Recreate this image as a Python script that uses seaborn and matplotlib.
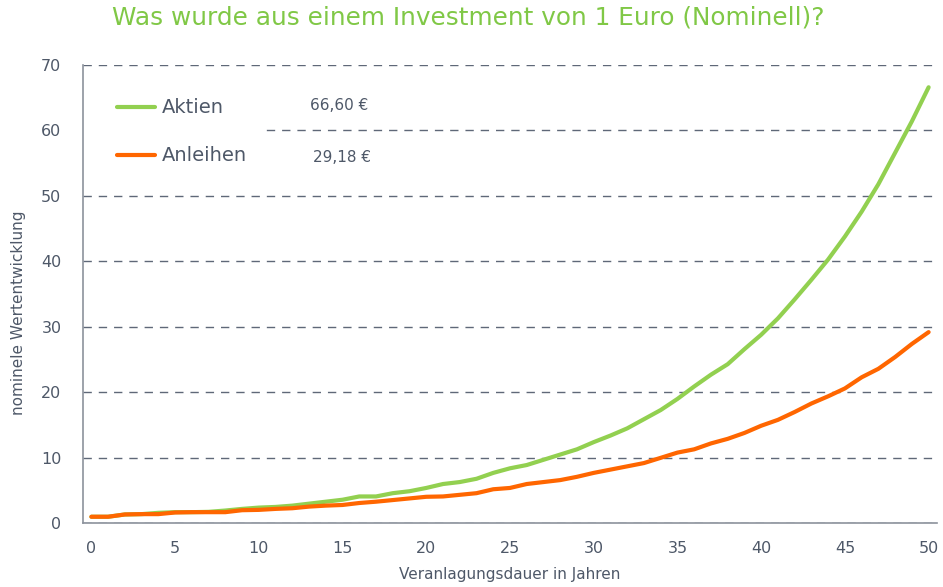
import numpy as np
import pandas as pd
import matplotlib
matplotlib.use("Agg")
import matplotlib.pyplot as plt
import seaborn as sns
from matplotlib.patches import Rectangle
from matplotlib.ticker import FixedLocator

# ---------------- data ----------------
years = list(range(0, 51))
aktien = [1.0, 1.0, 1.35, 1.4, 1.6, 1.7, 1.7, 1.75, 1.95, 2.2,
          2.4, 2.5, 2.7, 3.0, 3.3, 3.6, 4.1, 4.1, 4.6, 4.9,
          5.4, 6.0, 6.3, 6.8, 7.7, 8.4, 8.9, 9.7, 10.5, 11.3,
          12.4, 13.4, 14.5, 15.9, 17.3, 19.0, 20.9, 22.7, 24.3, 26.6,
          28.8, 31.3, 34.2, 37.2, 40.3, 43.8, 47.6, 51.8, 56.6, 61.4,
          66.6]
anleihen = [1.0, 1.0, 1.35, 1.4, 1.4, 1.65, 1.7, 1.7, 1.7, 2.0,
            2.05, 2.2, 2.3, 2.55, 2.7, 2.8, 3.1, 3.3, 3.55, 3.8,
            4.05, 4.1, 4.35, 4.6, 5.2, 5.4, 6.0, 6.3, 6.6, 7.1,
            7.7, 8.2, 8.7, 9.2, 10.0, 10.8, 11.3, 12.2, 12.9, 13.8,
            14.9, 15.8, 17.0, 18.3, 19.4, 20.6, 22.3, 23.6, 25.4, 27.4,
            29.2]
series_names = ["Aktien", "Anleihen"]
end_labels = ["66,60 €", "29,18 €"]
x_ticks = list(range(0, 51, 5))
y_ticks = list(range(0, 71, 10))

title = "Was wurde aus einem Investment von 1 Euro (Nominell)?"
xlabel = "Veranlagungsdauer in Jahren"
ylabel = "nominele Wertentwicklung"

GREEN = "#92D050"
ORANGE = "#FF6600"
TITLE_GREEN = "#80C846"
TEXT = "#4E5868"
AXIS = "#8C929C"
GRID = "#5F6878"

df = pd.DataFrame({
    "Jahr": years * 2,
    "Wert": aktien + anleihen,
    "Serie": [series_names[0]] * len(years) + [series_names[1]] * len(years),
})

sns.set_style("white")
plt.rcParams["font.family"] = ["DejaVu Sans"]

W, H = 943, 587
fig = plt.figure(figsize=(W / 100, H / 100), dpi=100)
ax_l, ax_r, ax_t, ax_b = 83, 937, 65, 523.3
ax = fig.add_axes([ax_l / W, 1 - ax_b / H, (ax_r - ax_l) / W, (ax_b - ax_t) / H])

sns.lineplot(data=df, x="Jahr", y="Wert", hue="Serie",
             palette={series_names[0]: GREEN, series_names[1]: ORANGE},
             linewidth=3.0, ax=ax, legend=False, zorder=3,
             solid_capstyle="round", solid_joinstyle="round")

ax.set_xlim(-0.5, 50.5)
ax.set_ylim(0, 70)

# grid
ax.set_axisbelow(True)
ax.yaxis.grid(True, linestyle=(0, (6, 5)), color=GRID, linewidth=1.0)
ax.xaxis.grid(False)

# spines
for s in ["top", "right"]:
    ax.spines[s].set_visible(False)
for s in ["left", "bottom"]:
    ax.spines[s].set_color(AXIS)
    ax.spines[s].set_linewidth(1.2)

# ticks
ax.set_xticks(x_ticks)
ax.set_xticklabels([str(v) for v in x_ticks])
ax.xaxis.set_minor_locator(FixedLocator(np.arange(4.5, 50, 5)))
ax.tick_params(axis="x", which="major", length=0, pad=12.5,
               labelsize=11.5, labelcolor=TEXT)
ax.tick_params(axis="x", which="minor", length=4.5, width=1.2,
               color=AXIS, direction="out")
ax.set_yticks(y_ticks)
ax.set_yticklabels([str(v) for v in y_ticks])
ax.tick_params(axis="y", which="major", length=5.5, width=1.2, color=AXIS,
               pad=10, labelsize=11.5, labelcolor=TEXT, direction="out")

# axis labels
ax.set_xlabel(xlabel, fontsize=11, color=TEXT)
ax.xaxis.set_label_coords(0.5, (ax_b - 567) / (ax_b - ax_t))
ax.set_ylabel(ylabel, fontsize=11, color=TEXT)
ax.yaxis.set_label_coords((26 - ax_l) / (ax_r - ax_l), 0.46)

# title
fig.text(0.497, 1 - 18 / H, title, ha="center", va="center",
         fontsize=17.8, color=TITLE_GREEN)

# legend area (white box hiding grid lines)
def fx(px):
    return (px - ax_l) / (ax_r - ax_l)

def fy(py):
    return (ax_b - py) / (ax_b - ax_t)

ax.add_patch(Rectangle((0.0, fy(188)), fx(266), fy(72) - fy(188),
                       transform=ax.transAxes, facecolor="white",
                       edgecolor="none", zorder=1.5))

handles = ax.lines[:2]
leg = ax.legend(handles, series_names, loc="center left",
                bbox_to_anchor=(fx(116.7), fy(131.9)), frameon=False,
                fontsize=14, handlelength=1.97, handletextpad=0.35,
                labelspacing=1.5, borderpad=0, borderaxespad=0,
                labelcolor=TEXT)
for lh in leg.get_lines():
    lh.set_linewidth(3.0)
    lh.set_solid_capstyle("round")

ax.text(fx(310), fy(106), end_labels[0], transform=ax.transAxes,
        ha="left", va="center", fontsize=11, color=TEXT, zorder=6)
ax.text(fx(313), fy(157.7), end_labels[1], transform=ax.transAxes,
        ha="left", va="center", fontsize=11, color=TEXT, zorder=6)

fig.savefig("out.png", dpi=100, facecolor="white")
